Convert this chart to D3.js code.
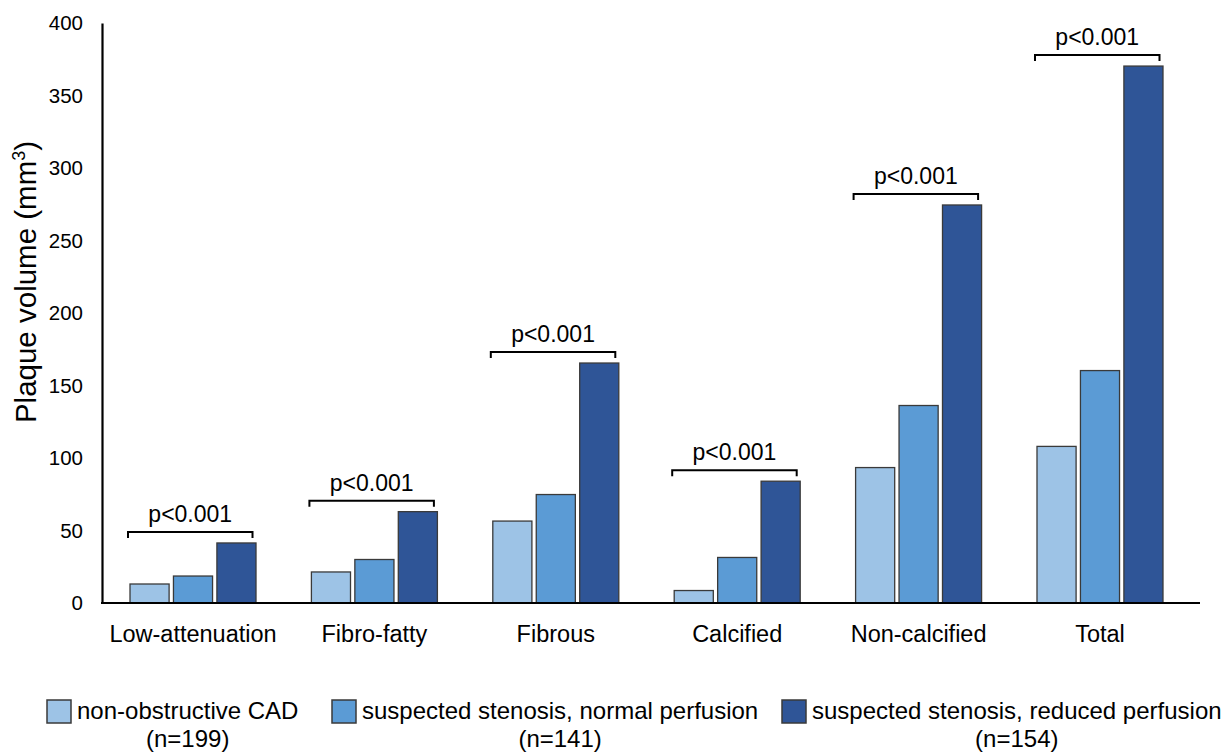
<!DOCTYPE html>
<html><head><meta charset="utf-8">
<script src="https://cdn.jsdelivr.net/npm/d3@7"></script>
<style>body{margin:0;background:#fff}text{font-family:"Liberation Sans",Arial,sans-serif}</style>
</head><body><svg id="c" width="1231" height="752"></svg>
<script>
const categories = ["Low-attenuation","Fibro-fatty","Fibrous","Calcified","Non-calcified","Total"];
const seriesNames = ["non-obstructive CAD","suspected stenosis, normal perfusion","suspected stenosis, reduced perfusion"];
const seriesN = ["(n=199)","(n=141)","(n=154)"];
const nonObstructive = [13.1, 21.4, 56.5, 8.6, 93.4, 108];
const normalPerfusion = [18.6, 30, 74.8, 31.4, 136.2, 160.3];
const reducedPerfusion = [41.4, 63, 165.5, 84, 274.5, 370.3];
const pLabels = ["p<0.001","p<0.001","p<0.001","p<0.001","p<0.001","p<0.001"];
const yTicks = [0,50,100,150,200,250,300,350,400];
const colors = ["#9DC3E6","#5B9BD5","#2F5597"];

(function(){
const FF = "Liberation Sans, Arial, sans-serif";
const series = [nonObstructive, normalPerfusion, reducedPerfusion];
const svg = d3.select("#c");
const mLeft = 102, mRight = 1200, mTop = 23, mBottom = 603;
const x = d3.scaleBand().domain(categories).range([mLeft, 1191]).paddingInner(0.3054).paddingOuter(0.1544);
const xs = d3.scaleBand().domain([0,1,2]).range([0, x.bandwidth()]).paddingInner(0.1);
const y = d3.scaleLinear().domain([0,400]).range([mBottom, mTop]);

categories.forEach((c, i) => {
  const g = svg.append("g").attr("transform", `translate(${x(c)},0)`);
  series.forEach((s, j) => {
    g.append("rect").attr("x", xs(j)).attr("y", y(s[i])).attr("width", xs.bandwidth())
      .attr("height", y(0) - y(s[i])).attr("fill", colors[j]).attr("stroke", "#3a3a3a").attr("stroke-width", 1.3);
  });
  const by = y(reducedPerfusion[i]) - 11;
  const x0 = xs(0) - 2, x1 = xs(2) + xs.bandwidth() - 3.5;
  g.append("path").attr("d", `M${x0},${by+6}V${by}H${x1}V${by+6}`).attr("fill","none").attr("stroke","#000").attr("stroke-width",2);
  g.append("text").attr("x", (x0+x1)/2).attr("y", by - 10).attr("text-anchor","middle").attr("font-size",23).text(pLabels[i]);
});

const yAxis = d3.axisLeft(y).tickValues(yTicks).tickSize(0).tickPadding(19);
const ya = svg.append("g").attr("transform", `translate(${mLeft},0)`).call(yAxis);
ya.attr("font-family", FF).attr("font-size", 20.5);
ya.select(".domain").attr("stroke","#000").attr("stroke-width",2.2);
ya.selectAll("text").attr("font-size",20.5).attr("fill","#000");
const xAxis = d3.axisBottom(x).tickSize(0).tickPadding(22);
const xa = svg.append("g").attr("transform", `translate(0,${mBottom})`).call(xAxis);
xa.attr("font-family", FF).attr("font-size", 23.5);
xa.select(".domain").attr("stroke","#000").attr("stroke-width",2.2).attr("d", `M${mLeft-1},0H${mRight}`);
xa.selectAll("text").attr("font-size",23.5).attr("fill","#000");

const yl = svg.append("text").attr("transform","translate(36,282) rotate(-90)").attr("text-anchor","middle").attr("font-size",29.5);
yl.append("tspan").text("Plaque volume (mm");
yl.append("tspan").attr("font-size",18).attr("dy",-11).text("3");
yl.append("tspan").attr("dy",11).text(")");

const legX = [47, 332, 782];
seriesNames.forEach((n, j) => {
  const lg = svg.append("g").attr("transform", `translate(${legX[j]},700)`);
  lg.append("rect").attr("x",0).attr("y",0).attr("width",24).attr("height",23).attr("fill",colors[j]).attr("stroke","#3a3a3a").attr("stroke-width",1.5);
  const t = lg.append("text").attr("x",30).attr("y",19).attr("font-size",24).text(n);
  const w = t.node().getComputedTextLength();
  lg.append("text").attr("x",30 + w/2).attr("y",47).attr("text-anchor","middle").attr("font-size",24).text(seriesN[j]);
});
})();
</script></body></html>
